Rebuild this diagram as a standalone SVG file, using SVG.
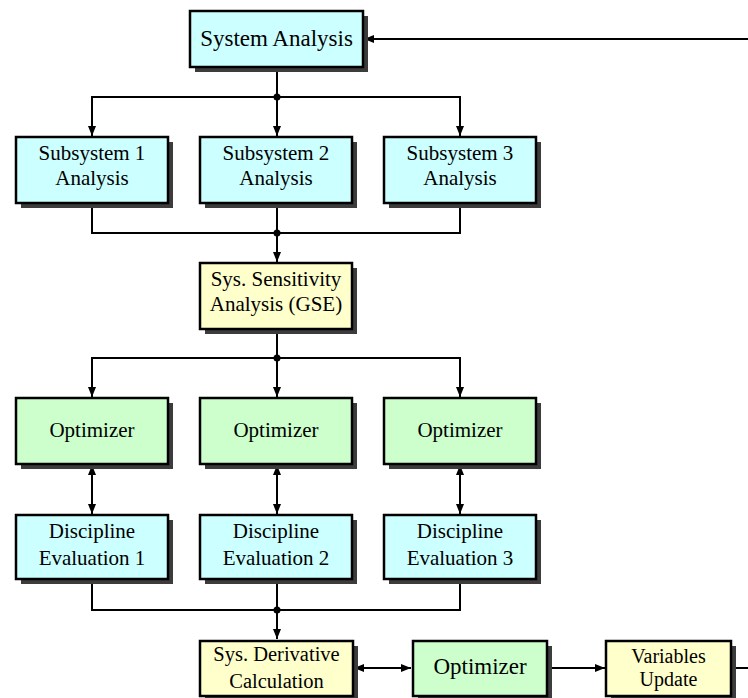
<svg xmlns="http://www.w3.org/2000/svg" width="748" height="698" viewBox="0 0 748 698">
  <defs>
    <marker id="arrow" viewBox="0 0 10 8" refX="10" refY="4" markerWidth="10" markerHeight="8" markerUnits="userSpaceOnUse" orient="auto-start-reverse">
      <path d="M0,0 L10,4 L0,8 Z" fill="#000"/>
    </marker>
    <style>
      .box { stroke: #000; stroke-width: 2.5; }
      .shadow { fill: #3c3c3c; }
      .cyan { fill: #ccffff; }
      .green { fill: #ccffcc; }
      .yellow { fill: #ffffcc; }
      .lbl { font-family: "Liberation Serif", "Times New Roman", serif; font-size: 21px; fill: #000; text-anchor: middle; }
      .wire { fill: none; stroke: #000; stroke-width: 2; }
      .dot { fill: #000; }
    </style>
  </defs>

  <rect width="748" height="698" fill="#fff"/>

  <!-- connectors -->
  <g id="connectors">
    <!-- feedback into system analysis -->
    <line class="wire" x1="748" y1="39" x2="364" y2="39" marker-end="url(#arrow)"/>
    <!-- system analysis fan-out -->
    <line class="wire" x1="277" y1="67" x2="277" y2="97"/>
    <path class="wire" d="M92,136 V97 H460 V136" marker-start="url(#arrow)" marker-end="url(#arrow)"/>
    <line class="wire" x1="277" y1="97" x2="277" y2="136" marker-end="url(#arrow)"/>
    <circle class="dot" cx="277" cy="97" r="3.5"/>
    <!-- subsystems join -->
    <path class="wire" d="M92,203 V233 H460 V203"/>
    <line class="wire" x1="277" y1="203" x2="277" y2="262" marker-end="url(#arrow)"/>
    <circle class="dot" cx="277" cy="233" r="3.5"/>
    <!-- GSE fan-out -->
    <line class="wire" x1="277" y1="329" x2="277" y2="358"/>
    <path class="wire" d="M92,397 V358 H460 V397" marker-start="url(#arrow)" marker-end="url(#arrow)"/>
    <line class="wire" x1="277" y1="358" x2="277" y2="397" marker-end="url(#arrow)"/>
    <circle class="dot" cx="277" cy="358" r="3.5"/>
    <!-- optimizer <-> discipline -->
    <line class="wire" x1="92" y1="465" x2="92" y2="514" marker-start="url(#arrow)" marker-end="url(#arrow)"/>
    <line class="wire" x1="277" y1="465" x2="277" y2="514" marker-start="url(#arrow)" marker-end="url(#arrow)"/>
    <line class="wire" x1="460" y1="465" x2="460" y2="514" marker-start="url(#arrow)" marker-end="url(#arrow)"/>
    <!-- disciplines join -->
    <path class="wire" d="M92,579 V610 H460 V579"/>
    <line class="wire" x1="277" y1="579" x2="277" y2="639" marker-end="url(#arrow)"/>
    <circle class="dot" cx="277" cy="610" r="3.5"/>
    <!-- bottom row -->
    <line class="wire" x1="354" y1="668" x2="411" y2="668" marker-start="url(#arrow)" marker-end="url(#arrow)"/>
    <line class="wire" x1="548" y1="668" x2="605" y2="668" marker-end="url(#arrow)"/>
    <line class="wire" x1="731" y1="668" x2="748" y2="668"/>
  </g>

  <g id="system-analysis">
    <rect class="shadow" x="195" y="16" width="173" height="56"/>
    <rect class="box cyan" x="190" y="11" width="173" height="56"/>
    <text class="lbl" x="276.5" y="46" style="font-size:23px">System Analysis</text>
  </g>

  <g id="subsystem-1">
    <rect class="shadow" x="21" y="142" width="152" height="66"/>
    <rect class="box cyan" x="16" y="137" width="152" height="66"/>
    <text class="lbl" x="92" y="160">Subsystem 1</text>
    <text class="lbl" x="92" y="185">Analysis</text>
  </g>
  <g id="subsystem-2">
    <rect class="shadow" x="205" y="142" width="152" height="66"/>
    <rect class="box cyan" x="200" y="137" width="152" height="66"/>
    <text class="lbl" x="276" y="160">Subsystem 2</text>
    <text class="lbl" x="276" y="185">Analysis</text>
  </g>
  <g id="subsystem-3">
    <rect class="shadow" x="389" y="142" width="152" height="66"/>
    <rect class="box cyan" x="384" y="137" width="152" height="66"/>
    <text class="lbl" x="460" y="160">Subsystem 3</text>
    <text class="lbl" x="460" y="185">Analysis</text>
  </g>

  <g id="gse">
    <rect class="shadow" x="205" y="268" width="152" height="66"/>
    <rect class="box yellow" x="200" y="263" width="152" height="66"/>
    <text class="lbl" x="276" y="286">Sys. Sensitivity</text>
    <text class="lbl" x="276" y="311">Analysis (GSE)</text>
  </g>

  <g id="optimizer-1">
    <rect class="shadow" x="21" y="403" width="152" height="66"/>
    <rect class="box green" x="16" y="398" width="152" height="66"/>
    <text class="lbl" x="92" y="437">Optimizer</text>
  </g>
  <g id="optimizer-2">
    <rect class="shadow" x="205" y="403" width="152" height="66"/>
    <rect class="box green" x="200" y="398" width="152" height="66"/>
    <text class="lbl" x="276" y="437">Optimizer</text>
  </g>
  <g id="optimizer-3">
    <rect class="shadow" x="389" y="403" width="152" height="66"/>
    <rect class="box green" x="384" y="398" width="152" height="66"/>
    <text class="lbl" x="460" y="437">Optimizer</text>
  </g>

  <g id="discipline-1">
    <rect class="shadow" x="21" y="520" width="152" height="64"/>
    <rect class="box cyan" x="16" y="515" width="152" height="64"/>
    <text class="lbl" x="92" y="538">Discipline</text>
    <text class="lbl" x="92" y="565">Evaluation 1</text>
  </g>
  <g id="discipline-2">
    <rect class="shadow" x="205" y="520" width="152" height="64"/>
    <rect class="box cyan" x="200" y="515" width="152" height="64"/>
    <text class="lbl" x="276" y="538">Discipline</text>
    <text class="lbl" x="276" y="565">Evaluation 2</text>
  </g>
  <g id="discipline-3">
    <rect class="shadow" x="389" y="520" width="152" height="64"/>
    <rect class="box cyan" x="384" y="515" width="152" height="64"/>
    <text class="lbl" x="460" y="538">Discipline</text>
    <text class="lbl" x="460" y="565">Evaluation 3</text>
  </g>

  <g id="sys-derivative">
    <rect class="shadow" x="205" y="646" width="153" height="56"/>
    <rect class="box yellow" x="200" y="641" width="153" height="55"/>
    <text class="lbl" x="276.5" y="661" style="font-size:20.5px">Sys. Derivative</text>
    <text class="lbl" x="276.5" y="688" style="font-size:20.5px">Calculation</text>
  </g>

  <g id="optimizer-main">
    <rect class="shadow" x="418" y="646" width="134" height="56"/>
    <rect class="box green" x="413" y="641" width="134" height="55"/>
    <text class="lbl" x="480" y="674" style="font-size:23px">Optimizer</text>
  </g>

  <g id="variables-update">
    <rect class="shadow" x="611" y="646" width="125" height="56"/>
    <rect class="box yellow" x="606" y="641" width="125" height="55"/>
    <text class="lbl" x="668.5" y="663" style="font-size:20px">Variables</text>
    <text class="lbl" x="668.5" y="686" style="font-size:20px">Update</text>
  </g>
</svg>
